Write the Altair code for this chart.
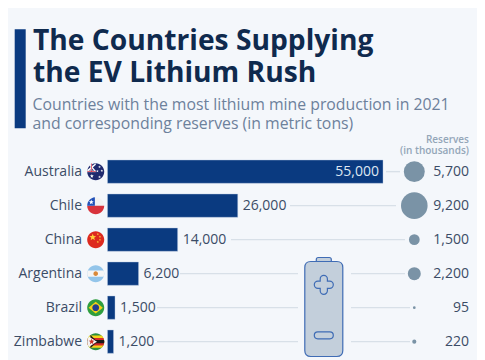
import math
import altair as alt
import pandas as pd

countries = ["Australia", "Chile", "China", "Argentina", "Brazil", "Zimbabwe"]
production = [55000, 26000, 14000, 6200, 1500, 1200]
reserves = [5700, 9200, 1500, 2200, 95, 220]
reserve_labels = ["5,700", "9,200", "1,500", "2,200", "95", "220"]
title_lines = ["The Countries Supplying", "the EV Lithium Rush"]
subtitle_lines = ["Countries with the most lithium mine production in 2021",
                  "and corresponding reserves (in metric tons)"]
reserve_head = ["Reserves", "(in thousands)"]

FONT = "Open Sans"
BG = "#f4f7fb"
NAVY = "#0a3a80"
INK = "#3b4c66"
W, H = 469, 352

xs = alt.Scale(domain=[0, 55000], range=[99.5, 375], nice=False, zero=False)
ys = alt.Scale(domain=countries, range=[152, 345.3], paddingInner=0.315, paddingOuter=0)
X = alt.X("production:Q", scale=xs, axis=None)
Y = alt.Y("country:N", scale=ys, axis=None, sort=None)

df = pd.DataFrame({"country": countries, "production": production, "reserves": reserves,
                   "rlabel": reserve_labels,
                   "plabel": [f"{v:,}" for v in production]})

segs = [("Australia", 386, 400), ("Chile", 290, 396), ("China", 231, 405),
        ("Argentina", 180, 298), ("Argentina", 351, 405),
        ("Brazil", 157, 298), ("Brazil", 351, 410),
        ("Zimbabwe", 157, 298), ("Zimbabwe", 351, 410)]
seg_df = pd.DataFrame([{"country": c, "a": a - 8, "b": b - 8} for c, a, b in segs])
px = alt.Scale(domain=[0, W], range=[0, W])

rules = alt.Chart(seg_df).mark_rule(color="#d8e0e8", strokeWidth=1.4).encode(
    x=alt.X("a:Q", scale=px, axis=None), x2="b:Q", y=Y)

bars = alt.Chart(df).mark_bar(color=NAVY, stroke="#b9cbe2", strokeWidth=0.6, strokeOpacity=0.7).encode(
    x=X, x2=alt.value(99.5), y=Y)

out_lab = alt.Chart(df[df.production < 55000]).mark_text(
    font=FONT, fontSize=14, color=INK, align="left", dx=5).encode(x=X, y=Y, text="plabel:N")
in_lab = alt.Chart(df[df.production == 55000]).mark_text(
    font=FONT, fontSize=14, color="#dfe7f2", align="right", dx=-4).encode(x=X, y=Y, text="plabel:N")
names = alt.Chart(df).mark_text(font=FONT, fontSize=14, color=INK, align="right").encode(
    x=alt.value(74), y=Y, text="country:N")

bubbles = alt.Chart(df).mark_point(filled=True, opacity=1, color="#7a93a6").encode(
    x=alt.value(406.3), y=Y,
    size=alt.Size("reserves:Q", scale=alt.Scale(domain=[0, 9200], range=[0, 707]), legend=None))
rlabels = alt.Chart(df).mark_text(font=FONT, fontSize=14, color=INK, align="right").encode(
    x=alt.value(461), y=Y, text="rlabel:N")

CIRCLE = "M-1,0A1,1,0,1,1,1,0A1,1,0,1,1,-1,0Z"
def dot(cx, cy, r):
    return f"M{cx-r},{cy}A{r},{r},0,1,1,{cx+r},{cy}A{r},{r},0,1,1,{cx-r},{cy}Z"
def band(y0, y1):
    a, b = math.sqrt(1 - y0 * y0), math.sqrt(1 - y1 * y1)
    return (f"M{-a:.3f},{y0}L{a:.3f},{y0}A1,1,0,0,1,{b:.3f},{y1}L{-b:.3f},{y1}"
            f"A1,1,0,0,1,{-a:.3f},{y0}Z")
def star(cx, cy, r):
    pts = []
    for i in range(10):
        rr = r if i % 2 == 0 else r * 0.42
        t = -math.pi / 2 + i * math.pi / 5
        pts.append(f"{cx + rr * math.cos(t):.3f},{cy + rr * math.sin(t):.3f}")
    return "M" + "L".join(pts) + "Z"

flag_parts = [
    ("Australia", CIRCLE, "#1f2a6e"),
    ("Australia", "M-1,-.18L-.02,-.98L.02,-.8L-.92,.02Z", "#ffffff"),
    ("Australia", "M-.72,-.72L-.6,-.8L.0,-.1L-.1,0Z", "#ffffff"),
    ("Australia", "M-1,-.12L0,-.12L0,.06L-1,.06Z", "#e8e8ee"),
    ("Australia", "M-.6,-.95L-.42,-.95L-.42,.05L-.6,.05Z", "#e8e8ee"),
    ("Australia", "M-.98,-.07L0,-.07L0,.01L-.98,.01Z", "#d8283c"),
    ("Australia", "M-.55,-.95L-.47,-.95L-.47,.05L-.55,.05Z", "#d8283c"),
    ("Australia", star(-.45, .52, .24), "#ffffff"),
    ("Australia", star(.45, -.55, .16), "#ffffff"),
    ("Australia", star(.72, -.1, .16), "#ffffff"),
    ("Australia", star(.2, -.05, .16), "#ffffff"),
    ("Australia", star(.45, .62, .18), "#ffffff"),
    ("Chile", CIRCLE, "#f2f2f2"),
    ("Chile", "M-1,0A1,1,0,0,0,1,0Z", "#d8333c"),
    ("Chile", "M-1,0L-.1,0L-.1,-.995A1,1,0,0,0,-1,0Z", "#2251b8"),
    ("Chile", star(-.52, -.42, .3), "#ffffff"),
    ("China", CIRCLE, "#dd2a1f"),
    ("China", star(-.35, -.28, .42), "#ffd23a"),
    ("China", star(.25, -.65, .14), "#ffd23a"),
    ("China", star(.5, -.35, .14), "#ffd23a"),
    ("China", star(.5, .02, .14), "#ffd23a"),
    ("China", star(.25, .28, .14), "#ffd23a"),
    ("Argentina", CIRCLE, "#93c5ea"),
    ("Argentina", band(-.36, .36), "#f5f5f5"),
    ("Argentina", dot(0, 0, .27), "#d9893a"),
    ("Brazil", CIRCLE, "#2f9e3f"),
    ("Brazil", "M-.84,0L0,-.68L.84,0L0,.68Z", "#f7d117"),
    ("Brazil", dot(0, 0, .4), "#233f8f"),
    ("Zimbabwe", CIRCLE, "#2c8f3c"),
    ("Zimbabwe", band(-.72, .72), "#f6d21a"),
    ("Zimbabwe", band(-.44, .44), "#d62a2a"),
    ("Zimbabwe", band(-.18, .18), "#1a1a1a"),
    ("Zimbabwe", "M-.78,-.62L.15,0L-.78,.62A1,1,0,0,1,-.78,-.62Z", "#f4f4f4"),
    ("Zimbabwe", "M-.62,-.78L.15,-.05L-.62,-.5Z", "#1a1a1a"),
    ("Zimbabwe", "M-.62,.78L.15,.05L-.62,.5Z", "#1a1a1a"),
    ("Zimbabwe", star(-.48, 0, .36), "#d0342c"),
]
flag_df = pd.DataFrame(flag_parts, columns=["country", "path", "fill"])
flags = alt.Chart(flag_df).mark_point(filled=True, opacity=1, size=17 ** 2, strokeWidth=0).encode(
    x=alt.value(87.7), y=Y,
    shape=alt.Shape("path:N", scale=None, legend=None),
    color=alt.Color("fill:N", scale=None, legend=None),
)

one = pd.DataFrame({"k": [0]})
BODY = "M-19,-41.5Q-19,-47.5,-13,-47.5L13,-47.5Q19,-47.5,19,-41.5L19,41.5Q19,47.5,13,47.5L-13,47.5Q-19,47.5,-19,41.5Z"
CAP = "M-7.5,-47.5L-7.5,-49.5Q-7.5,-51.5,-5.5,-51.5L5.5,-51.5Q7.5,-51.5,7.5,-49.5L7.5,-47.5Z"
PLUS = ("M-3.6,-30.1A3.6,3.6,0,0,1,3.6,-30.1L3.6,-27.8L5.9,-27.8A3.6,3.6,0,0,1,5.9,-20.6L3.6,-20.6L3.6,-18.3"
        "A3.6,3.6,0,0,1,-3.6,-18.3L-3.6,-20.6L-5.9,-20.6A3.6,3.6,0,0,1,-5.9,-27.8L-3.6,-27.8Z")
MINUS = "M-6,22.8L6,22.8Q9.5,22.8,9.5,26.3Q9.5,29.8,6,29.8L-6,29.8Q-9.5,29.8,-9.5,26.3Q-9.5,22.8,-6,22.8Z"
batt_df = pd.DataFrame({"path": [CAP, BODY, PLUS, MINUS],
                        "fill": ["#c3cfdb", "#c3cfdb", "#c3cfdb", "#c3cfdb"]})
battery = alt.Chart(batt_df).mark_point(filled=True, opacity=1, size=4, stroke="#3f6cb5", strokeWidth=1.2).encode(
    x=alt.value(315.8), y=alt.value(301),
    shape=alt.Shape("path:N", scale=None, legend=None),
    color=alt.Color("fill:N", scale=None, legend=None),
    stroke=alt.value("#3f6cb5"))

accent = alt.Chart(one).mark_rect(color=NAVY).encode(
    x=alt.value(6.7), x2=alt.value(17.7), y=alt.value(21.3), y2=alt.value(120.3))

def line(text, x, y, size, color, weight="normal", align="left"):
    return alt.Chart(pd.DataFrame({"t": [text]})).mark_text(
        font=FONT, fontSize=size, color=color, fontWeight=weight, align=align, baseline="alphabetic"
    ).encode(x=alt.value(x), y=alt.value(y), text="t:N")

heads = [
    line(title_lines[0], 25, 42, 28.2, "#0f2a4e", "bold"),
    line(title_lines[1], 25, 73.5, 28.2, "#0f2a4e", "bold"),
    line(subtitle_lines[0], 24.5, 101.5, 15.8, "#6d819b"),
    line(subtitle_lines[1], 24.5, 121.3, 15.8, "#6d819b"),
    line(reserve_head[0], 461, 134.7, 10, "#93a6b8", 600, "right"),
    line(reserve_head[1], 461, 146, 10, "#93a6b8", 600, "right"),
]

chart = alt.layer(
    accent, *heads, rules, bars, out_lab, in_lab, names, flags, bubbles, rlabels, battery
).resolve_scale(x="independent", y="shared", shape="independent", color="independent", size="independent").properties(
    width=W, height=H, background=BG, padding=0,
    autosize=alt.AutoSizeParams(type="none", contains="padding"),
).configure_view(stroke=None)

chart.save("out.html", embed_options={"renderer": "svg", "actions": False})
